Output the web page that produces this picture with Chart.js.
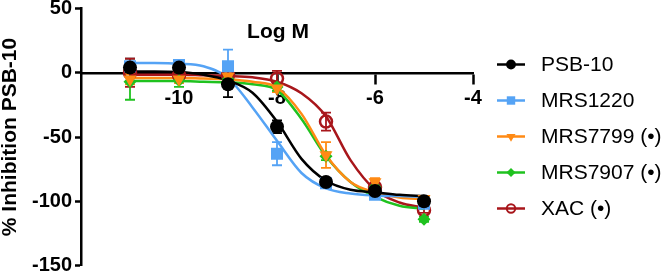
<!DOCTYPE html>
<html>
<head>
<meta charset="utf-8">
<script src="https://cdn.jsdelivr.net/npm/chart.js@4.4.1/dist/chart.umd.min.js"></script>
<style>
  html, body { margin: 0; padding: 0; background: #fff; }
  #wrap { width: 664px; height: 274px; }
</style>
</head>
<body>
<div id="wrap"><canvas id="chart" width="664" height="274"></canvas></div>
<script>
const FONT = "'Liberation Sans', Arial, Helvetica, sans-serif";

// log M of the measured points
const logConc = [-11, -10, -9, -8, -7, -6, -5];
const curveX = [-11, -10.5, -10, -9.5, -9, -8.5, -8, -7.5, -7, -6.5, -6, -5.5, -5];

const xTickValues = [-10, -8, -6, -4];
const yTickValues = [50, 0, -50, -100, -150];

const compounds = ['PSB-10', 'MRS1220', 'MRS7799 (•)', 'MRS7907 (•)', 'XAC (•)'];

// means and SEM
const psb10Mean = [4, 4, -9, -42, -85, -92, -100];
const psb10Sem = [7, 6, 10, 5, 2, 2, 2];
const mrs1220Mean = [5, 6, 5, -63, -86, -95, -102];
const mrs1220Sem = [3, 3, 13, 9, 2, 2, 2];
const mrs7799Mean = [-5, -5, -3, -12, -64, -85, -98];
const mrs7799Sem = [4, 3, 3, 3, 10, 3, 2];
const mrs7907Mean = [-7, -6, -5, -11, -65, -89, -114];
const mrs7907Sem = [14, 5, 3, 3, 3, 2, 2];
const xacMean = [0, -2, -2, -4.5, -38, -89, -107];
const xacSem = [11, 4, 3, 6, 7, 2, 2];

// fitted curves
const psb10Fit = [1, 1, 0.5, -1.5, -6, -15.5, -38, -67, -84, -91, -93, -95, -96];
const mrs1220Fit = [7.5, 7.5, 7, 5, -4, -27, -53, -78, -90, -94, -95.5, -96, -96.5];
const mrs7799Fit = [-4, -4, -4, -4.5, -5, -7, -11.5, -32, -64, -85, -93, -97, -98.5];
const mrs7907Fit = [-6.5, -6.5, -6.5, -7, -7.5, -9, -13.5, -36, -65, -85, -96.5, -103.5, -106];
const xacFit = [-1.5, -1.5, -1.5, -2, -2.5, -3.5, -7, -16, -34, -68, -91, -101, -105];

const means = [psb10Mean, mrs1220Mean, mrs7799Mean, mrs7907Mean, xacMean];
const sems = [psb10Sem, mrs1220Sem, mrs7799Sem, mrs7907Sem, xacSem];
const fits = [psb10Fit, mrs1220Fit, mrs7799Fit, mrs7907Fit, xacFit];

const STYLES = [
	{ color: '#000000', fill: '#000000', pointStyle: 'circle', radius: 7, rotation: 0 },
	{ color: '#55a3f5', fill: '#55a3f5', pointStyle: 'rect', radius: 8.5, rotation: 0 },
	{ color: '#ff8a14', fill: '#ff8a14', pointStyle: 'triangle', radius: 7.5, rotation: 180 },
	{ color: '#1fc21f', fill: '#1fc21f', pointStyle: 'rectRot', radius: 6.5, rotation: 0 },
	{ color: '#a8161b', fill: 'rgba(255,255,255,0)', pointStyle: 'circle', radius: 6, rotation: 0 },
];

const datasets = [];
compounds.forEach((name, i) => {
	const st = STYLES[i];
	datasets.push({
		label: name,
		data: logConc.map((x, j) => ({ x: x, y: means[i][j] })),
		sem: sems[i],
		showLine: false,
		borderColor: st.color,
		backgroundColor: st.fill,
		pointStyle: st.pointStyle,
		pointRadius: st.radius,
		pointRotation: st.rotation,
		pointBorderWidth: i === 4 ? 2.5 : 0,
		pointBorderColor: st.color,
		pointBackgroundColor: st.fill,
		order: i,
	});
	datasets.push({
		label: name + ' fit',
		data: curveX.map((x, j) => ({ x: x, y: fits[i][j] })),
		borderColor: st.color,
		borderWidth: 2.5,
		pointRadius: 0,
		fill: false,
		cubicInterpolationMode: 'monotone',
		order: 5 + i,
	});
});

const errorBars = {
	id: 'errorBars',
	beforeDatasetsDraw(chart) {
		const ctx = chart.ctx;
		const yScale = chart.scales.y;
		chart.data.datasets.forEach((ds, i) => {
			if (!ds.sem) return;
			const meta = chart.getDatasetMeta(i);
			ctx.save();
			ctx.strokeStyle = ds.borderColor;
			ctx.lineWidth = 1.8;
			meta.data.forEach((pt, j) => {
				const v = ds.data[j].y;
				const e = ds.sem[j];
				const top = yScale.getPixelForValue(v + e);
				const bot = yScale.getPixelForValue(v - e);
				ctx.beginPath();
				ctx.moveTo(pt.x, top);
				ctx.lineTo(pt.x, bot);
				ctx.moveTo(pt.x - 5, top);
				ctx.lineTo(pt.x + 5, top);
				ctx.moveTo(pt.x - 5, bot);
				ctx.lineTo(pt.x + 5, bot);
				ctx.stroke();
			});
			ctx.restore();
		});
	},
};

const sideLegend = {
	id: 'sideLegend',
	afterDraw(chart) {
		const ctx = chart.ctx;
		const area = chart.chartArea;
		// axis title sitting above the x axis
		ctx.save();
		ctx.fillStyle = '#000';
		ctx.font = 'bold 21px ' + FONT;
		ctx.textAlign = 'center';
		ctx.textBaseline = 'middle';
		ctx.fillText('Log M', (area.left + area.right) / 2 + 1, 32);
		ctx.restore();

		const x0 = area.right + 24;
		compounds.forEach((name, i) => {
			const st = STYLES[i];
			const y = 64.5 + i * 36;
			ctx.save();
			ctx.strokeStyle = st.color;
			ctx.lineWidth = 2.5;
			ctx.beginPath();
			ctx.moveTo(x0, y);
			ctx.lineTo(x0 + 28, y);
			ctx.stroke();
			ctx.fillStyle = st.fill;
			ctx.lineWidth = 2;
			Chart.helpers.drawPoint(ctx, {
				pointStyle: st.pointStyle,
				radius: st.radius * 0.7,
				rotation: st.rotation,
				borderWidth: i === 4 ? 2 : 0,
			}, x0 + 14, y);
			ctx.fillStyle = '#000';
			ctx.font = '21px ' + FONT;
			ctx.textAlign = 'left';
			ctx.textBaseline = 'middle';
			ctx.fillText(name, x0 + 44, y + 1);
			ctx.restore();
		});
	},
};

const chart = new Chart(document.getElementById('chart'), {
	type: 'line',
	data: { datasets: datasets },
	options: {
		responsive: false,
		animation: false,
		layout: { padding: { top: 7, bottom: 7, left: 0, right: 191 } },
		plugins: {
			legend: { display: false },
			tooltip: { enabled: false },
		},
		scales: {
			x: {
				type: 'linear',
				min: -12,
				max: -4,
				position: { y: 0 },
				afterBuildTicks: s => {
					s.ticks = xTickValues.map(v => ({ value: v }));
				},
				afterFit: s => {
					s.height = 0;
					s.paddingLeft = 0;
					s.paddingRight = 0;
				},
				border: { color: '#000', width: 2.5 },
				grid: { drawOnChartArea: false, tickLength: 10, tickWidth: 2.5, tickColor: '#000' },
				ticks: {
					padding: 4,
					color: '#000',
					maxRotation: 0,
					autoSkip: false,
					font: { family: FONT, size: 20, weight: 'bold' },
				},
			},
			y: {
				type: 'linear',
				min: -150,
				max: 50,
				afterBuildTicks: s => {
					s.ticks = yTickValues.map(v => ({ value: v }));
				},
				afterFit: s => {
					s.width = 81;
					s.paddingTop = 0;
					s.paddingBottom = 0;
				},
				border: { color: '#000', width: 2.5 },
				grid: { drawOnChartArea: false, tickLength: 6, tickWidth: 2.5, tickColor: '#000' },
				ticks: {
					padding: 3,
					color: '#000',
					font: { family: FONT, size: 20, weight: 'bold' },
				},
				title: {
					display: true,
					text: '% Inhibition PSB-10',
					color: '#000',
					padding: 0,
					font: { family: FONT, size: 21, weight: 'bold', lineHeight: 1 },
				},
			},
		},
	},
	plugins: [errorBars, sideLegend],
});
</script>
</body>
</html>
